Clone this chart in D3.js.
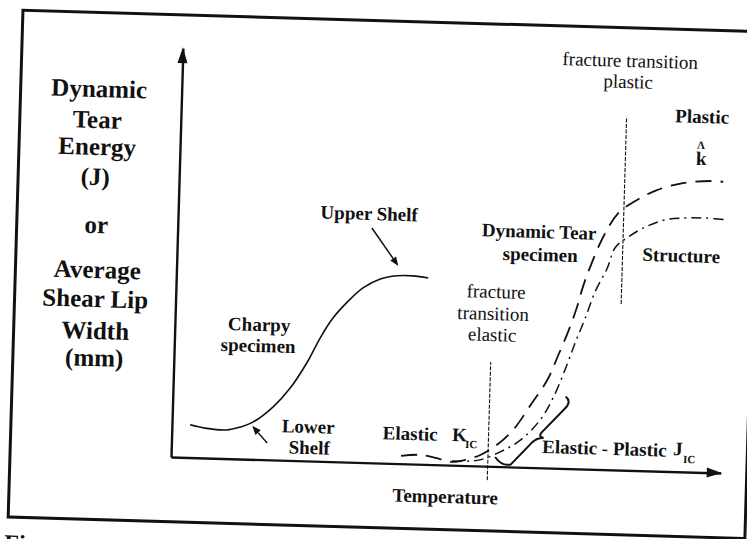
<!DOCTYPE html>
<html>
<head>
<meta charset="utf-8">
<script src="https://cdn.jsdelivr.net/npm/d3@7"></script>
<style>
html,body{margin:0;padding:0;background:#fff;}
svg{display:block;}
</style>
</head>
<body>
<svg id="chart" width="747" height="539"></svg>
<script>
// ---------- data (schematic units: temperature 0..100 along axis, energy 0..100) ----------
const charpyTemp   = [3.3, 6.0, 10.0, 12.4, 14.7, 18.3, 21.3, 24.2, 26.5, 28.7, 31.2, 34.0, 37.1, 40.1, 43.0, 45.8];
const charpyEnergy = [8.0, 7.3, 7.0, 7.8, 9.1, 13.0, 17.7, 24.0, 30.2, 35.1, 39.1, 42.7, 45.0, 45.9, 46.0, 45.6];

const dtTemp   = [41.8, 45.3, 48.9, 51.1, 53.5, 56.2, 58.9, 62.0, 65.2, 68.1, 69.8, 71.5, 72.9, 74.0, 75.3, 77.4, 80.0, 83.4, 86.9, 91.6, 96.7, 98.9];
const dtEnergy = [1.9, 2.3, 1.4, 0.8, 1.4, 2.7, 5.0, 9.0, 15.5, 21.8, 27.5, 33.4, 39.1, 44.7, 49.9, 56.9, 62.8, 66.2, 68.7, 70.6, 71.3, 71.2];

const structTemp   = [51.1, 54.0, 56.2, 59.8, 63.4, 66.9, 69.1, 71.2, 72.9, 74.5, 76.2, 78.3, 79.6, 81.7, 85.0, 88.6, 92.2, 95.8, 100.0];
const structEnergy = [1.0, 1.1, 1.5, 3.6, 6.6, 11.7, 17.1, 24.3, 31.0, 36.7, 43.4, 49.3, 54.3, 56.8, 59.6, 61.5, 62.1, 62.2, 61.9];

// transition temperature markers [temp, energyFrom, energyTo]
const elasticTransition = [57.6, -3.4, 25.5];
const plasticTransition = [81.0, 40.6, 86.4];

// annotation arrows [fromTemp, fromEnergy, toTemp, toEnergy]
const upperShelfArrow = [35.3, 57.4, 40.3, 48.3];
const lowerShelfArrow = [17.4, 4.1, 14.6, 8.2];

// elastic-plastic brace points (temp, energy)
const bracePts = [[58.9,2.3],[60.2,0.0],[61.8,0.6],[65.6,6.2],[66.4,7.3],[67.6,7.3],[66.6,7.6],[67.2,8.6],[71.3,14.6],[72.6,16.4],[71.4,17.6]];

const yLabelLines = ["Dynamic","Tear","Energy","(J)","or","Average","Shear Lip","Width","(mm)"];

// ---------- layout ----------
const FONT = "'Liberation Serif', 'Times New Roman', Times, 'DejaVu Serif', serif";
const svg = d3.select("#chart");
const x = d3.scaleLinear().domain([0,100]).range([171,721]);
const y = d3.scaleLinear().domain([0,100]).range([457,48]);
const ang = 1.67, rad = ang*Math.PI/180, S = Math.sin(rad), C = Math.cos(rad);
const ox = x(0), oy = y(0);
// convert a position seen on the (skewed) page into the unrotated drawing frame
function unrot(px, py){ const dx = px-ox, dy = py-oy; return [ox + dx*C + dy*S, oy - dx*S + dy*C]; }

svg.append("rect").attr("width",747).attr("height",539).attr("fill","#fff");
const g = svg.append("g").attr("transform",`rotate(${ang},${ox},${oy})`);

// frame
g.append("rect").attr("x",10).attr("y",14.7).attr("width",737).attr("height",507)
  .attr("fill","none").attr("stroke","#111").attr("stroke-width",3);

// axes (no ticks)
const yAxis = g.append("g").attr("transform",`translate(${x(0)},0)`)
  .call(d3.axisLeft(y).tickValues([]).tickSizeOuter(0));
const xAxis = g.append("g").attr("transform",`translate(0,${y(0)})`)
  .call(d3.axisBottom(x).tickValues([]).tickSizeOuter(0));
[yAxis,xAxis].forEach(a=>a.select(".domain").attr("stroke","#111").attr("stroke-width",2.4));
// arrowheads on axes
g.append("path").attr("fill","#111")
  .attr("d",`M${x(0)},${y(100)-1} L${x(0)-5},${y(100)+15} L${x(0)+5},${y(100)+15} Z`);
g.append("path").attr("fill","#111")
  .attr("d",`M${x(100)+1},${y(0)} L${x(100)-14},${y(0)-5} L${x(100)-14},${y(0)+5} Z`);

// curves
const line = d3.line().x(d=>x(d[0])).y(d=>y(d[1])).curve(d3.curveCatmullRom.alpha(0.5));
g.append("path").datum(charpyTemp.map((t,i)=>[t,charpyEnergy[i]]))
  .attr("d",line).attr("fill","none").attr("stroke","#111").attr("stroke-width",1.6);
g.append("path").datum(dtTemp.map((t,i)=>[t,dtEnergy[i]]))
  .attr("d",line).attr("fill","none").attr("stroke","#111").attr("stroke-width",1.8)
  .attr("stroke-dasharray","16,9");
g.append("path").datum(structTemp.map((t,i)=>[t,structEnergy[i]]))
  .attr("d",line).attr("fill","none").attr("stroke","#111").attr("stroke-width",1.5)
  .attr("stroke-dasharray","10,5,2,5");

// transition lines
[elasticTransition, plasticTransition].forEach(v=>{
  g.append("line").attr("x1",x(v[0])).attr("x2",x(v[0])).attr("y1",y(v[1])).attr("y2",y(v[2]))
    .attr("stroke","#111").attr("stroke-width",1.1).attr("stroke-dasharray","4,1.5");
});

// brace
const bp = bracePts.map(p=>[x(p[0]),y(p[1])]);
const br = d3.path();
br.moveTo(...bp[0]);
br.quadraticCurveTo(...bp[1],...bp[2]);
br.lineTo(...bp[3]);
br.quadraticCurveTo(...bp[4],...bp[5]);
br.quadraticCurveTo(...bp[6],...bp[7]);
br.lineTo(...bp[8]);
br.quadraticCurveTo(...bp[9],...bp[10]);
g.append("path").attr("d",br.toString()).attr("fill","none").attr("stroke","#111").attr("stroke-width",2);

// annotation arrows
function arrow(a){
  const x1=x(a[0]), y1=y(a[1]), x2=x(a[2]), y2=y(a[3]);
  const an = Math.atan2(y2-y1,x2-x1), L=9, W=3.5;
  const bx = x2 - L*Math.cos(an), by = y2 - L*Math.sin(an);
  g.append("line").attr("x1",x1).attr("y1",y1).attr("x2",bx).attr("y2",by).attr("stroke","#111").attr("stroke-width",1.5);
  g.append("path").attr("fill","#111").attr("d",
    `M${x2},${y2} L${bx - W*Math.sin(an)},${by + W*Math.cos(an)} L${bx + W*Math.sin(an)},${by - W*Math.cos(an)} Z`);
}
arrow(upperShelfArrow);
arrow(lowerShelfArrow);

// texts (positions as seen on the page)
function label(txt, px, py, size, weight, anchor){
  const p = unrot(px, py);
  g.append("text").attr("x",p[0]).attr("y",p[1])
    .style("font-family",FONT).style("font-size",size+"px")
    .style("font-weight",weight||"bold").attr("fill","#111")
    .attr("text-anchor",anchor||"middle").text(txt);
}
const yLabelPos = [[99,97],[97,128],[97,155],[95,185],[96,233],[97,278],[95,307],[95,339],[94,366]];
yLabelLines.forEach((t,i)=>label(t, yLabelPos[i][0], yLabelPos[i][1], 25));

label("Upper Shelf", 369, 220, 19);
label("Charpy", 259, 331, 19);
label("specimen", 258, 352, 19);
label("Lower", 308, 433, 19);
label("Shelf", 309, 454, 19);
label("Elastic", 410, 440, 19);
label("K", 452, 441, 19, "bold", "start");
label("IC", 465, 448, 11, "bold", "start");
label("Elastic - Plastic", 542, 453, 19, "bold", "start");
label("J", 673, 455, 19, "bold", "start");
label("IC", 683, 463, 11, "bold", "start");
label("Temperature", 445, 503, 19);
label("fracture", 496, 298, 19, "normal");
label("transition", 493, 320, 19, "normal");
label("elastic", 492, 341, 19, "normal");
label("fracture transition", 630, 67, 19, "normal");
label("plastic", 628, 88, 19, "normal");
label("Plastic", 702, 123, 19);
label("Λ", 701, 149, 11);
label("k", 701, 165, 19);
label("Dynamic Tear", 539, 238, 19);
label("specimen", 540, 261, 19);
label("Structure", 681, 262, 19);
label("Figure", 4, 551, 24, "bold", "start");
</script>
</body>
</html>
